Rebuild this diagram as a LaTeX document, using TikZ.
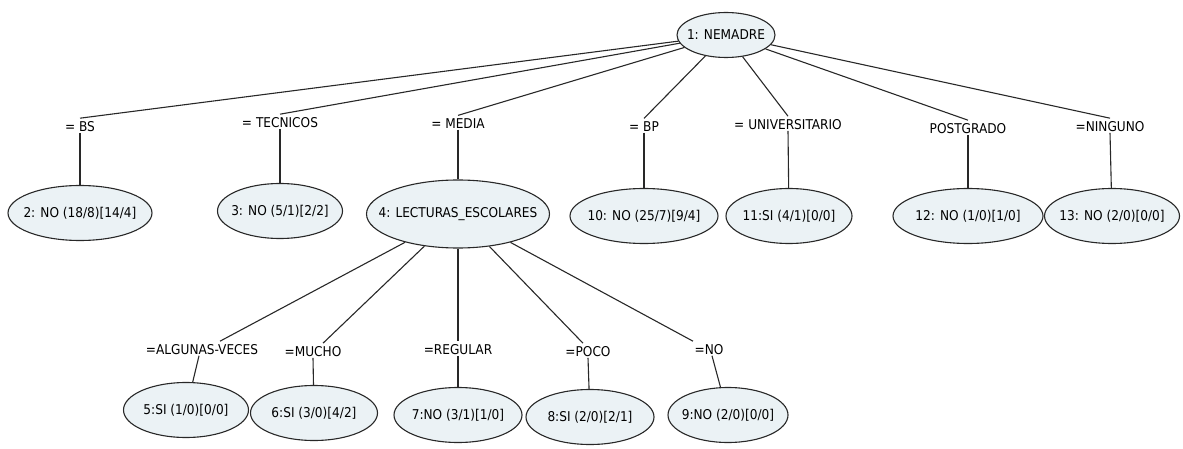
\documentclass[tikz,border=0pt]{standalone}
\usepackage{fontspec}
\setmainfont{DejaVu Sans Condensed}
\usetikzlibrary{shapes.geometric}
\definecolor{nodefill}{RGB}{235,242,245}
\definecolor{inkline}{RGB}{40,40,40}
% zero-width text so the ellipse size comes from minimum width/height only
\newcommand{\ctext}[1]{\makebox[0pt]{#1}}
\begin{document}
\begin{tikzpicture}[x=1pt,y=-1pt,
  ell/.style={ellipse, draw=inkline, line width=1.1pt, fill=nodefill, inner sep=0pt,
    minimum height=55pt, font=\fontsize{13.5}{15}\selectfont},
  lbl/.style={inner sep=0.5pt, font=\fontsize{13.5}{15}\selectfont},
  link/.style={draw=inkline, line width=1.1pt}]
\useasboundingbox (0,0) rectangle (1183,449);

% root
\node[ell, minimum width=98pt, minimum height=45pt] (root) at (726,35) {\ctext{1: NEMADRE}};

% first level branch labels
\node[lbl] (lBS)  at (80,127)   {= BS};
\node[lbl] (lTEC) at (280,123)  {= TECNICOS};
\node[lbl] (lMED) at (458,124)  {= MEDIA};
\node[lbl] (lBP)  at (644,127)  {= BP};
\node[lbl] (lUNI) at (788,125)  {= UNIVERSITARIO};
\node[lbl] (lPOS) at (968,129)  {POSTGRADO};
\node[lbl] (lNIN) at (1110,127) {=NINGUNO};

% first level nodes
\node[ell, minimum width=144pt] (n2)  at (80,213)  {\ctext{2: NO (18/8)[14/4]}};
\node[ell, minimum width=125pt] (n3)  at (280,211) {\ctext{3: NO (5/1)[2/2]}};
\node[ell, minimum width=183pt, minimum height=68pt] (n4) at (458,214) {\ctext{4: LECTURAS\_ESCOLARES}};
\node[ell, minimum width=148pt] (n10) at (644,216) {\ctext{10: NO (25/7)[9/4]}};
\node[ell, minimum width=126pt] (n11) at (789,216) {\ctext{11:SI (4/1)[0/0]}};
\node[ell, minimum width=150pt] (n12) at (968,216) {\ctext{12: NO (1/0)[1/0]}};
\node[ell, minimum width=135pt] (n13) at (1112,216) {\ctext{13: NO (2/0)[0/0]}};

% second level branch labels
\node[lbl] (lALG) at (202,350) {=ALGUNAS-VECES};
\node[lbl] (lMUC) at (313,352) {=MUCHO};
\node[lbl] (lREG) at (458,350) {=REGULAR};
\node[lbl] (lPOC) at (588,352) {=POCO};
\node[lbl] (lNO)  at (709,350) {=NO};

% second level nodes
\node[ell, minimum width=125pt] (n5) at (186,410) {\ctext{5:SI (1/0)[0/0]}};
\node[ell, minimum width=127pt] (n6) at (314,413) {\ctext{6:SI (3/0)[4/2]}};
\node[ell, minimum width=128pt] (n7) at (458,415) {\ctext{7:NO (3/1)[1/0]}};
\node[ell, minimum width=128pt] (n8) at (590,417) {\ctext{8:SI (2/0)[2/1]}};
\node[ell, minimum width=120pt] (n9) at (728,415) {\ctext{9:NO (2/0)[0/0]}};

% root to labels to leaves
\foreach \l/\c in {lBS/n2, lTEC/n3, lMED/n4, lBP/n10, lUNI/n11, lPOS/n12, lNIN/n13} {
  \draw[link] (root) -- ([yshift=3pt]\l.north);
  \draw[link] (\l.south) -- (\c);
}
% node 4 to labels to leaves
\draw[link] (n4) -- ([xshift=18pt,yshift=3pt]lALG.north);
\draw[link] ([xshift=-3pt]lALG.south) -- (n5);
\draw[link] (n4) -- ([xshift=10pt,yshift=3pt]lMUC.north);
\draw[link] (lMUC.south) -- (n6);
\draw[link] (n4) -- ([yshift=3pt]lREG.north);
\draw[link] (lREG.south) -- (n7);
\draw[link] (n4) -- ([xshift=-5pt,yshift=3pt]lPOC.north);
\draw[link] (lPOC.south) -- (n8);
\draw[link] (n4) -- ([xshift=-16pt,yshift=3pt]lNO.north);
\draw[link] ([xshift=3pt]lNO.south) -- (n9);
\end{tikzpicture}
\end{document}
